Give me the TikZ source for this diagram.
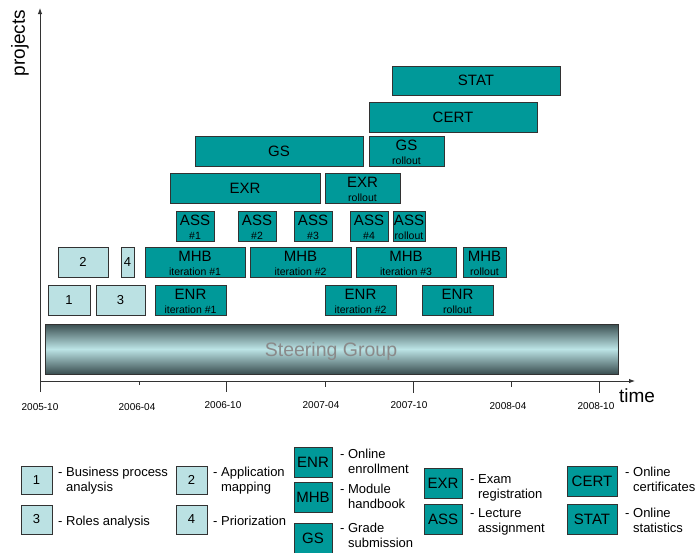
\documentclass[tikz,border=0pt]{standalone}
\usepackage{fontspec}
\setmainfont{Liberation Sans}
\usetikzlibrary{fit,arrows.meta}
\definecolor{teal1}{RGB}{0,153,153}
\definecolor{lightbox}{RGB}{187,225,227}
\definecolor{sgdark}{RGB}{58,78,80}
\definecolor{sglight}{RGB}{188,228,230}
\definecolor{sgtext}{RGB}{138,138,138}
\definecolor{edge}{RGB}{50,50,50}
\tikzset{
 tealbox/.style={draw=edge, fill=teal1, line width=0.8pt, inner sep=0pt, outer sep=0pt},
 lightbx/.style={draw=edge, fill=lightbox, line width=0.8pt, inner sep=0pt, outer sep=0pt},
 maintxt/.style={font=\fontsize{15}{18}\selectfont, inner sep=0pt},
 numtxt/.style={font=\fontsize{13}{15}\selectfont, inner sep=0pt},
 subtxt/.style={font=\fontsize{10.5}{12}\selectfont, inner sep=0pt},
 datetxt/.style={font=\fontsize{10}{12}\selectfont, inner sep=0pt},
 legtxt/.style={font=\fontsize{13}{15.5}\selectfont, inner sep=0pt, align=left, anchor=north west},
 axisline/.style={draw=black!80, line width=0.9pt},
 axistip/.style={-{Latex[length=6pt,width=4.5pt]}},
}
% name, box style, text style, x1, y1, x2, y2, text
\newcommand\OneBox[8]{%
 \node[#2, fit={(#4,#5) (#6,#7)}] (#1) {};
 \node[#3] (#1t) at (#1.center) {#8};}
\newcommand\TwoBox[7]{%
 \node[tealbox, fit={(#2,#3) (#4,#5)}] (#1) {};
 \node[maintxt] (#1m) at ([yshift=-9.5pt]#1.north) {#6};
 \node[subtxt] (#1s) at ([yshift=-24.5pt]#1.north) {#7};}
\begin{document}
\begin{tikzpicture}[x=1pt,y=-1pt]
\useasboundingbox (0,0) rectangle (695,552);
% axes
\coordinate (ytop) at (40,8);
\coordinate (ybot) at (40,392);
\coordinate (xl) at (40,381);
\coordinate (xr) at (635,381);
\draw[axisline,axistip] (ybot) -- (ytop);
\draw[axisline,axistip] (xl) -- (xr);
\foreach \x/\b in {139/385, 226/392, 325/387, 413/393, 511/387, 599/393}
  \draw[axisline] (\x,381) -- (\x,\b);
\node[font=\fontsize{19}{22}\selectfont, rotate=90, inner sep=0pt] (ylab) at (20,43) {projects};
\node[font=\fontsize{19}{22}\selectfont, inner sep=0pt] (xlab) at (637,396) {time};
\node[datetxt] (d1) at (40,407) {2005-10};
\node[datetxt] (d2) at (137,407) {2006-04};
\node[datetxt] (d3) at (223,405) {2006-10};
\node[datetxt] (d4) at (321,405) {2007-04};
\node[datetxt] (d5) at (409,405) {2007-10};
\node[datetxt] (d6) at (508,406) {2008-04};
\node[datetxt] (d7) at (596,406) {2008-10};
% steering group
\node[fit={(45,324) (618,374)}, draw=edge, line width=0.8pt, inner sep=0pt,
  top color=sgdark, bottom color=sgdark, middle color=sglight] (sg) {};
\node[font=\fontsize{19.5}{22}\selectfont, text=sgtext, anchor=base, inner sep=0pt] (sgt) at (331,356) {Steering Group};
% single boxes
\OneBox{stat}{tealbox}{maintxt}{392}{66}{560}{95}{STAT}
\OneBox{cert}{tealbox}{maintxt}{369}{102}{537}{132}{CERT}
\OneBox{gs}{tealbox}{maintxt}{195}{136}{363}{166}{GS}
\OneBox{exr}{tealbox}{maintxt}{170}{173}{320}{203}{EXR}
\TwoBox{gsr}{369}{136}{444}{166}{GS}{rollout}
\TwoBox{exrr}{325}{173}{400}{203}{EXR}{rollout}
\TwoBox{ass1}{176}{211}{214}{241}{ASS}{\#1}
\TwoBox{ass2}{238}{211}{276}{241}{ASS}{\#2}
\TwoBox{ass3}{294}{211}{332}{241}{ASS}{\#3}
\TwoBox{ass4}{350}{211}{388}{241}{ASS}{\#4}
\TwoBox{assr}{393}{211}{425}{241}{ASS}{rollout}
\TwoBox{mhb1}{145}{247}{245}{277}{MHB}{iteration \#1}
\TwoBox{mhb2}{250}{247}{351}{277}{MHB}{iteration \#2}
\TwoBox{mhb3}{356}{247}{456}{277}{MHB}{iteration \#3}
\TwoBox{mhbr}{463}{247}{506}{277}{MHB}{rollout}
\TwoBox{enr1}{155}{285}{226}{315}{ENR}{iteration \#1}
\TwoBox{enr2}{325}{285}{396}{315}{ENR}{iteration \#2}
\TwoBox{enrr}{422}{285}{493}{315}{ENR}{rollout}
\OneBox{p2}{lightbx}{numtxt}{58}{247}{108}{277}{2}
\OneBox{p4}{lightbx}{numtxt}{121}{247}{134}{277}{4}
\OneBox{p1}{lightbx}{numtxt}{48}{285}{90}{315}{1}
\OneBox{p3}{lightbx}{numtxt}{96}{285}{145}{315}{3}
% legend
\OneBox{l1}{lightbx}{numtxt}{21}{466}{52}{494}{1}
\OneBox{l3}{lightbx}{numtxt}{21}{505}{52}{534}{3}
\OneBox{l2}{lightbx}{numtxt}{176}{466}{207}{494}{2}
\OneBox{l4}{lightbx}{numtxt}{176}{505}{207}{534}{4}
\OneBox{lenr}{tealbox}{maintxt}{294}{447}{332}{477}{ENR}
\OneBox{lmhb}{tealbox}{maintxt}{294}{482}{332}{512}{MHB}
\OneBox{lgs}{tealbox}{maintxt}{294}{523}{332}{553}{GS}
\OneBox{lexr}{tealbox}{maintxt}{424}{468}{462}{498}{EXR}
\OneBox{lass}{tealbox}{maintxt}{424}{504}{462}{534}{ASS}
\OneBox{lcert}{tealbox}{maintxt}{567}{466}{617}{496}{CERT}
\OneBox{lstat}{tealbox}{maintxt}{567}{504}{617}{534}{STAT}
\node[legtxt] (t1) at (58,465.3) {\strut- Business process\\\hphantom{- }analysis};
\node[legtxt] (t3) at (58,514.3) {\strut- Roles analysis};
\node[legtxt] (t2) at (213,465.3) {\strut- Application\\\hphantom{- }mapping};
\node[legtxt] (t4) at (213,514.3) {\strut- Priorization};
\node[legtxt] (tenr) at (340,447.3) {\strut- Online\\\hphantom{- }enrollment};
\node[legtxt] (tmhb) at (340,482.3) {\strut- Module\\\hphantom{- }handbook};
\node[legtxt] (tgs) at (340,521.3) {\strut- Grade\\\hphantom{- }submission};
\node[legtxt] (texr) at (470,472.3) {\strut- Exam\\\hphantom{- }registration};
\node[legtxt] (tass) at (470,506.3) {\strut- Lecture\\\hphantom{- }assignment};
\node[legtxt] (tcert) at (625,465.3) {\strut- Online\\\hphantom{- }certificates};
\node[legtxt] (tstat) at (625,506.3) {\strut- Online\\\hphantom{- }statistics};
\end{tikzpicture}
\end{document}
